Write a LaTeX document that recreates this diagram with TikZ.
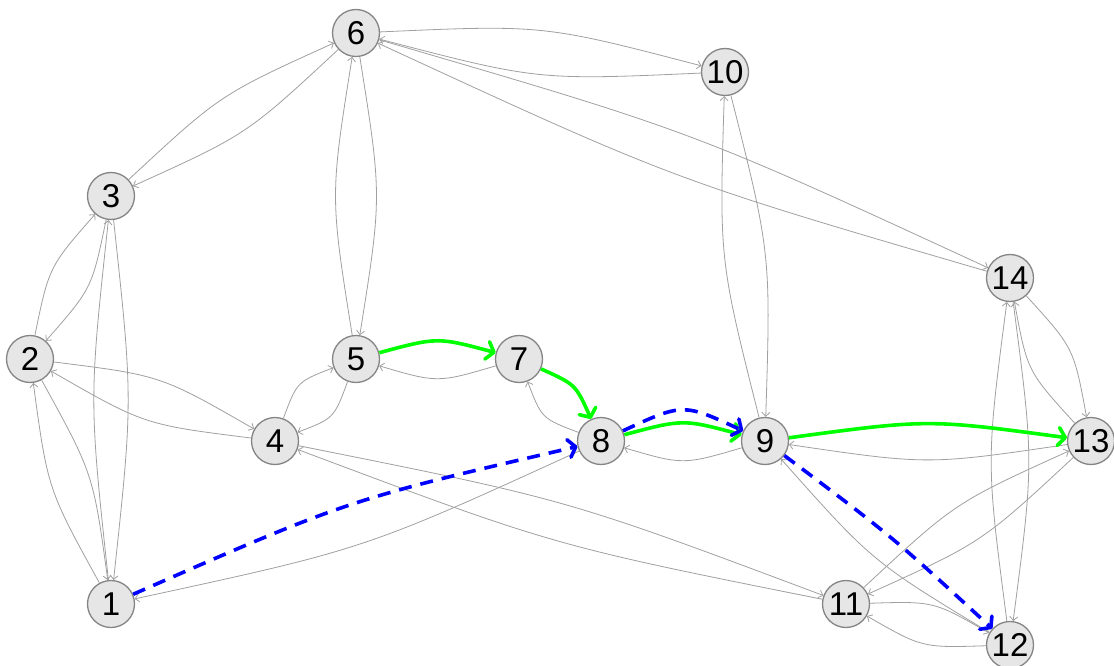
\documentclass[tikz,border=0pt]{standalone}
\usepackage{fontspec}
\setmainfont{Liberation Sans}
\usepackage{tikz}
\usetikzlibrary{calc,arrows.meta}

\definecolor{vfill}{HTML}{E6E6E6}
\definecolor{vline}{HTML}{858585}
\definecolor{eline}{HTML}{A0A0A0}
\definecolor{pgreen}{HTML}{00FF00}
\definecolor{pblue}{HTML}{0000FF}

\tikzset{
  vertex/.style={circle,draw=vline,line width=1.3pt,fill=vfill,minimum size=47pt,inner sep=0pt,font=\fontsize{33}{33}\selectfont},
  link/.style={draw=eline,line width=0.8pt,-{Straight Barb[length=4pt,width=8pt]}},
  greenpath/.style={draw=pgreen,line width=3.6pt,-{Straight Barb[length=7pt,width=18pt,round]}},
  bluepath/.style={draw=pblue,line width=3.6pt,dash pattern=on 13pt off 9pt,-{Straight Barb[length=7pt,width=18pt,round]}}
}

\begin{document}
\begin{tikzpicture}[x=1pt,y=-1pt]
\useasboundingbox (0,0) rectangle (1114,666);

   % vertices
   \foreach \n/\pos in {1/{(111,604)},2/{(30,359)},3/{(111,196)},4/{(275,441)},5/{(356,359)},
                        6/{(356,33)},7/{(519,359)},8/{(601,441)},9/{(765,441)},10/{(725,72)},
                        11/{(846,604)},12/{(1010,645)},13/{(1091,441)},14/{(1010,278)}}
      {\node[vertex] (n\n) at \pos {\n};}

   % gray edges (the ones on a path are drawn in colour below)
   \foreach \a/\b/\c in {1/2/24pt,2/1/24pt,1/3/22pt,3/1/22pt,2/3/24pt,3/2/24pt,2/4/26pt,4/2/26pt,
                         3/6/24pt,6/3/24pt,4/5/26pt,5/4/26pt,5/6/26pt,6/5/26pt,7/5/24pt,8/7/26pt,
                         9/8/24pt,8/1/28pt,4/11/24pt,11/4/24pt,6/10/28pt,10/6/28pt,6/14/26pt,14/6/26pt,
                         9/10/26pt,10/9/26pt,13/9/24pt,12/9/24pt,11/12/24pt,12/11/24pt,
                         11/13/24pt,13/11/24pt,12/14/24pt,14/12/24pt,13/14/26pt,14/13/26pt}
      {\draw[link] (n\a) .. controls ($(n\a)!0.5!(n\b)!\c!90:(n\b)$) .. (n\b);}

   % green path
   \foreach \a/\b in {5/7,7/8,8/9,9/13}
      {\draw[greenpath] (n\a) .. controls ($(n\a)!0.5!(n\b)!22pt!90:(n\b)$) .. (n\b);}

   % blue path
   \foreach \a/\b/\c in {1/8/24pt,8/9/38pt,9/12/8pt}
      {\draw[bluepath] (n\a) .. controls ($(n\a)!0.5!(n\b)!\c!90:(n\b)$) .. (n\b);}
\end{tikzpicture}
\end{document}
